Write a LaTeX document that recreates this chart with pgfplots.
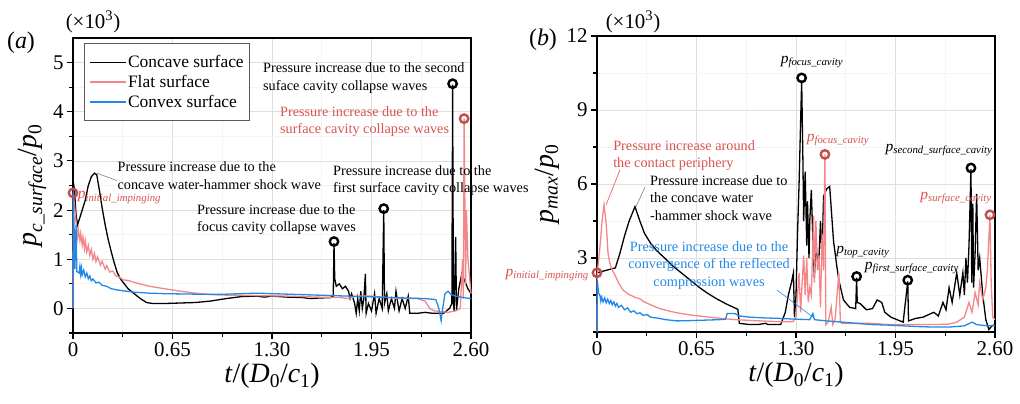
\documentclass[border=0pt]{standalone}
\usepackage{fontspec}
\setmainfont{Liberation Serif}
\usepackage{pgfplots}
\pgfplotsset{compat=1.18}

\definecolor{flatc}{HTML}{F4868A}
\definecolor{convexc}{HTML}{2288E8}
\definecolor{redtxt}{HTML}{D9534F}
\definecolor{redmk}{HTML}{C0504D}

\newcommand{\ann}{\fontsize{14.3}{17.5}\selectfont}
\newcommand{\plab}[1]{\fontsize{15.5}{17}\selectfont\textit{p}\textsubscript{\textit{#1}}}
\tikzset{ann/.style={font=\ann, inner sep=0}}

\pgfplotsset{
  panel/.style={
    scale only axis, width=398bp,
    xmin=0, xmax=2.6,
    xtick={0,0.65,1.3,1.95,2.6}, xticklabels={0,0.65,1.30,1.95,2.60},
    minor xtick={0.325,0.975,1.625,2.275},
    xtick pos=bottom, ytick pos=left, tick align=outside,
    major tick length=6bp, minor tick length=4bp,
    every tick/.style={black, line width=1.1bp},
    axis line style={line width=1.4bp},
    grid=both, major grid style={gray!25, line width=0.7bp},
    minor grid style={gray!9, line width=0.7bp},
    tick label style={font=\fontsize{21}{21}\selectfont},
    /pgf/number format/assume math mode=true,
    label style={font=\fontsize{28}{28}\selectfont},
    xlabel={\textit{t}/(\textit{D}\textsubscript{0}/\textit{c}\textsubscript{1})},
    clip=false,
  },
  blk/.style={black, line width=1.3bp},
  flt/.style={flatc, line width=1.3bp},
  cvx/.style={convexc, line width=1.3bp},
  bmk/.style={only marks, mark=o, mark size=4.2bp, black, line width=2.4bp, mark options={fill=white}, forget plot},
  rmk/.style={only marks, mark=o, mark size=4.2bp, redmk, line width=2.4bp, mark options={fill=white}, forget plot},
}

\begin{document}
\begin{tikzpicture}
\useasboundingbox (0,0) rectangle (1020bp,404bp);

% ---------------- panel (a)
\begin{axis}[panel, at={(73bp,71bp)}, anchor=south west, height=295bp,
  ymin=-0.5, ymax=5.5, ytick={0,1,2,3,4,5}, minor ytick={-0.5,0.5,1.5,2.5,3.5,4.5},
  ylabel={\textit{p}\textsubscript{\textit{c\_surface}}/\textit{p}\textsubscript{0}},
  legend style={at={(0.028,0.983)}, anchor=north west, draw=gray!70!black, line width=0.8bp,
    font=\fontsize{17.5}{19}\selectfont, inner xsep=5bp, inner ysep=11bp, row sep=4bp,
    nodes={inner xsep=1bp, inner ysep=1bp}},
  legend cell align=left,
  legend image code/.code={\draw[#1, line width=1.5bp] (0bp,0bp) -- (36bp,0bp);},
]
\addplot[blk] coordinates {(0,0) (0.003,2.55) (0.01,2.4) (0.02,1.9) (0.03,1.7) (0.045,1.85) (0.06,2.0) (0.08,2.2) (0.1,2.5) (0.12,2.68) (0.14,2.75) (0.155,2.72) (0.17,2.45) (0.19,2.05) (0.21,1.7) (0.23,1.4) (0.25,1.15) (0.27,0.92) (0.29,0.72) (0.31,0.6) (0.33,0.52) (0.36,0.4) (0.4,0.3) (0.44,0.2) (0.48,0.12) (0.52,0.1) (0.6,0.1) (0.7,0.11) (0.8,0.12) (0.9,0.15) (1.0,0.2) (1.1,0.24) (1.2,0.25) (1.25,0.23) (1.3,0.25) (1.35,0.24) (1.4,0.23) (1.5,0.22) (1.55,0.2) (1.6,0.21) (1.68,0.22) (1.70,0.25) (1.705,1.33) (1.71,0.6) (1.72,0.45) (1.74,0.5) (1.76,0.4) (1.78,0.45) (1.8,0.35) (1.81,0.2) (1.82,0.3) (1.84,0.1) (1.85,-0.1) (1.86,0.2) (1.87,-0.05) (1.88,0.35) (1.89,0.0) (1.9,0.2) (1.91,0.7) (1.915,-0.1) (1.93,0.1) (1.95,-0.05) (1.97,0.3) (1.98,-0.1) (2.0,0.2) (2.02,0.0) (2.03,2.0) (2.035,0.1) (2.05,0.3) (2.06,-0.05) (2.08,0.2) (2.1,0.0) (2.11,0.35) (2.13,-0.05) (2.15,0.2) (2.17,0.0) (2.19,0.25) (2.2,-0.1) (2.25,-0.1) (2.3,-0.08) (2.35,-0.1) (2.42,-0.1) (2.44,-0.05) (2.46,0.0) (2.475,0.1) (2.48,4.55) (2.485,0.1) (2.49,-0.05) (2.5,1.45) (2.505,-0.05) (2.52,0.4) (2.54,0.7) (2.56,0.55) (2.58,0.4) (2.6,0.3)};
\addlegendentry{Concave surface}
\addplot[flt] coordinates {(0,0) (0.002,2.35) (0.01,2.1) (0.02,1.75) (0.03,1.45) (0.035,1.6) (0.045,1.38) (0.05,1.52) (0.06,1.3) (0.065,1.45) (0.075,1.22) (0.08,1.38) (0.09,1.15) (0.1,1.28) (0.11,1.08) (0.12,1.2) (0.13,1.0) (0.14,1.12) (0.15,0.95) (0.16,1.05) (0.18,0.88) (0.19,0.96) (0.21,0.8) (0.22,0.87) (0.24,0.74) (0.26,0.76) (0.28,0.66) (0.3,0.64) (0.33,0.58) (0.36,0.57) (0.4,0.53) (0.5,0.45) (0.6,0.4) (0.7,0.35) (0.8,0.31) (0.9,0.28) (1.0,0.27) (1.2,0.26) (1.4,0.25) (1.6,0.23) (1.75,0.22) (1.8,0.2) (1.85,0.25) (1.95,0.25) (2.05,0.22) (2.15,0.2) (2.25,0.2) (2.3,0.15) (2.33,0.0) (2.36,-0.05) (2.45,-0.08) (2.5,-0.05) (2.53,0.0) (2.545,1.0) (2.55,0.2) (2.555,3.86) (2.565,0.5) (2.57,2.0) (2.58,1.0) (2.6,0.3)};
\addlegendentry{Flat surface}
\addplot[cvx] coordinates {(0,0) (0.002,2.4) (0.008,1.5) (0.012,0.8) (0.02,1.7) (0.025,0.75) (0.04,0.72) (0.045,0.85) (0.05,0.7) (0.055,0.82) (0.06,0.68) (0.07,0.78) (0.08,0.64) (0.09,0.72) (0.1,0.6) (0.11,0.66) (0.12,0.56) (0.13,0.6) (0.15,0.52) (0.17,0.53) (0.19,0.47) (0.22,0.45) (0.25,0.4) (0.3,0.37) (0.4,0.33) (0.5,0.31) (0.6,0.3) (0.8,0.29) (1.0,0.29) (1.1,0.3) (1.2,0.31) (1.3,0.3) (1.4,0.29) (1.5,0.28) (1.6,0.27) (1.7,0.26) (1.8,0.25) (1.9,0.24) (2.0,0.23) (2.1,0.22) (2.2,0.21) (2.3,0.2) (2.37,0.18) (2.39,0.0) (2.405,-0.25) (2.415,0.0) (2.43,0.3) (2.45,0.35) (2.47,0.28) (2.5,0.25) (2.55,0.22) (2.6,0.2)};
\addlegendentry{Convex surface}
\addplot[bmk] coordinates {(1.705,1.36) (2.03,2.03) (2.48,4.57)};
\addplot[rmk] coordinates {(0,2.35) (2.555,3.86)};

\draw[gray, line width=0.6bp] (axis cs:0.157,2.75) -- (axis cs:0.287,2.6);
\node[ann, anchor=north west, align=left] at (axis cs:0.29,2.98) {Pressure increase due to the\\concave water-hammer shock wave};
\node[anchor=west, inner sep=0, redtxt] at (axis cs:0.03,2.26) {\plab{initial\_impinging}};
\node[ann, anchor=north west, align=left] at (axis cs:0.81,2.125) {Pressure increase due to the\\focus cavity collapse waves};
\node[ann, anchor=north west, align=left] at (axis cs:1.698,2.91) {Pressure increase due to the\\first surface cavity collapse waves};
\node[ann, anchor=north west, align=left] at (axis cs:1.241,5.0) {Pressure increase due to the second\\suface cavity collapse waves};
\node[ann, anchor=north west, align=left, redtxt] at (axis cs:1.352,4.11) {Pressure increase due to the\\surface cavity collapse waves};
\end{axis}

% ---------------- panel (b)
\begin{axis}[panel, at={(597bp,72bp)}, anchor=south west, height=296bp,
  ymin=0, ymax=12, ytick={3,6,9,12}, minor ytick={0,1.5,4.5,7.5,10.5},
  ylabel={\textit{p}\textsubscript{\textit{max}}/\textit{p}\textsubscript{0}},
]
\addplot[blk] coordinates {(0,0) (0.002,2.4) (0.03,2.45) (0.06,2.5) (0.09,2.55) (0.12,2.6) (0.15,3.2) (0.18,3.9) (0.21,4.5) (0.248,5.08) (0.28,4.5) (0.31,4.0) (0.35,3.6) (0.39,3.3) (0.45,2.95) (0.5,2.65) (0.56,2.35) (0.61,2.1) (0.67,1.8) (0.72,1.58) (0.78,1.35) (0.85,1.12) (0.92,0.92) (0.93,0.35) (1.0,0.3) (1.05,0.3) (1.1,0.35) (1.12,0.3) (1.2,0.3) (1.23,0.8) (1.25,1.5) (1.27,2.0) (1.283,2.4) (1.29,0.6) (1.30,1.5) (1.31,4.0) (1.32,6.0) (1.33,8.5) (1.337,10.2) (1.345,7.0) (1.35,4.5) (1.36,6.5) (1.37,3.5) (1.375,5.3) (1.385,3.0) (1.39,4.5) (1.40,5.75) (1.41,3.8) (1.42,2.2) (1.43,3.6) (1.44,2.9) (1.45,3.0) (1.46,4.5) (1.47,3.0) (1.48,5.5) (1.5,5.8) (1.52,5.9) (1.545,3.7) (1.567,2.65) (1.58,2.1) (1.61,1.3) (1.65,1.0) (1.69,0.95) (1.696,2.2) (1.70,1.2) (1.72,1.15) (1.76,0.9) (1.8,0.95) (1.83,1.3) (1.86,1.2) (1.88,0.8) (1.92,0.6) (1.96,0.5) (2.0,0.4) (2.03,2.05) (2.035,0.45) (2.08,0.55) (2.13,0.6) (2.2,0.8) (2.23,0.65) (2.26,1.2) (2.28,0.9) (2.3,1.8) (2.32,1.2) (2.35,2.4) (2.37,1.5) (2.39,2.4) (2.4,1.5) (2.41,3.0) (2.42,2.0) (2.43,3.5) (2.443,6.6) (2.448,2.0) (2.455,5.2) (2.46,1.8) (2.47,3.2) (2.48,5.6) (2.49,2.5) (2.5,3.0) (2.52,1.5) (2.54,0.5) (2.56,0.1) (2.58,0.25) (2.6,0.3)};
\addplot[flt] coordinates {(0,0) (0.002,2.4) (0.02,3.5) (0.035,4.6) (0.046,5.15) (0.06,4.4) (0.072,3.2) (0.083,2.8) (0.1,2.5) (0.118,2.3) (0.14,2.0) (0.17,1.7) (0.2,1.55) (0.25,1.4) (0.28,1.35) (0.3,1.25) (0.35,1.1) (0.41,0.95) (0.47,0.85) (0.52,0.78) (0.6,0.7) (0.7,0.62) (0.8,0.56) (0.9,0.5) (1.0,0.47) (1.1,0.44) (1.2,0.42) (1.28,0.42) (1.3,0.6) (1.32,2.4) (1.33,0.8) (1.35,3.1) (1.36,1.5) (1.37,3.0) (1.38,1.2) (1.39,1.8) (1.4,1.5) (1.415,4.7) (1.42,2.0) (1.43,4.5) (1.44,2.5) (1.45,3.1) (1.46,1.0) (1.47,4.0) (1.48,2.5) (1.489,7.2) (1.495,0.3) (1.51,0.4) (1.53,1.0) (1.54,0.3) (1.555,0.5) (1.58,2.4) (1.59,0.4) (1.6,0.35) (1.7,0.35) (1.8,0.35) (1.9,0.3) (2.0,0.3) (2.1,0.3) (2.2,0.3) (2.3,0.32) (2.35,0.4) (2.4,0.6) (2.43,1.2) (2.45,0.8) (2.47,1.6) (2.49,1.1) (2.5,2.0) (2.52,1.3) (2.54,1.8) (2.55,2.5) (2.56,3.8) (2.567,4.75) (2.575,2.0) (2.585,0.6) (2.6,0.5)};
\addplot[cvx] coordinates {(0,0) (0.002,2.1) (0.01,1.6) (0.02,1.45) (0.025,1.25) (0.03,1.42) (0.04,1.22) (0.05,1.38) (0.06,1.18) (0.07,1.33) (0.08,1.15) (0.09,1.28) (0.1,1.1) (0.11,1.22) (0.12,1.05) (0.13,1.16) (0.14,1.0) (0.16,1.08) (0.18,0.9) (0.2,0.98) (0.22,0.8) (0.24,0.86) (0.26,0.74) (0.28,0.78) (0.3,0.68) (0.33,0.7) (0.35,0.6) (0.39,0.57) (0.45,0.5) (0.52,0.45) (0.6,0.46) (0.7,0.48) (0.8,0.5) (0.84,0.52) (0.85,0.75) (0.9,0.75) (0.93,0.65) (1.0,0.6) (1.1,0.57) (1.2,0.55) (1.3,0.52) (1.39,0.5) (1.41,0.75) (1.42,0.5) (1.5,0.45) (1.6,0.4) (1.7,0.35) (1.8,0.3) (1.9,0.28) (2.0,0.25) (2.1,0.22) (2.2,0.2) (2.3,0.2) (2.4,0.25) (2.45,0.4) (2.48,0.3) (2.55,0.25) (2.6,0.25)};
\addplot[bmk] coordinates {(1.337,10.3) (1.696,2.25) (2.03,2.1) (2.443,6.65)};
\addplot[rmk] coordinates {(0,2.4) (1.489,7.2) (2.567,4.75)};

\draw[redtxt, line width=0.6bp] (axis cs:0.150,6.57) -- (axis cs:0.059,5.15);
\draw[gray, line width=0.6bp] (axis cs:0.314,5.89) -- (axis cs:0.255,5.08);
\draw[convexc, line width=0.6bp] (axis cs:1.176,1.70) -- (axis cs:1.417,0.57);
\node[ann, anchor=north west, align=left, redtxt] at (axis cs:0.105,7.78) {Pressure increase around\\the contact periphery};
\node[ann, anchor=north west, align=left] at (axis cs:0.346,6.36) {Pressure increase due to\\the concave water\\-hammer shock wave};
\node[ann, anchor=north, align=center, convexc] at (axis cs:0.732,3.67) {Pressure increase due to the\\convergence of the reflected\\compression waves};
\node[inner sep=0] at (axis cs:1.404,10.94) {\plab{focus\_cavity}};
\node[inner sep=0, redtxt] at (axis cs:1.574,7.78) {\plab{focus\_cavity}};
\node[inner sep=0] at (axis cs:2.234,7.38) {\plab{second\_surface\_cavity}};
\node[inner sep=0, redtxt] at (axis cs:2.345,5.43) {\plab{surface\_cavity}};
\node[inner sep=0] at (axis cs:1.737,3.24) {\plab{top\_cavity}};
\node[inner sep=0] at (axis cs:2.057,2.59) {\plab{first\_surface\_cavity}};
\node[inner sep=0, anchor=east, redtxt] at (axis cs:-0.052,2.31) {\plab{initial\_impinging}};
\end{axis}

\node[font=\fontsize{24}{24}\selectfont] at (21bp,361bp) {(\textit{a})};
\node[font=\fontsize{21}{21}\selectfont] at (93bp,382bp) {(×10\textsuperscript{3})};
\node[font=\fontsize{24}{24}\selectfont] at (543bp,364bp) {(\textit{b})};
\node[font=\fontsize{21}{21}\selectfont] at (633bp,382bp) {(×10\textsuperscript{3})};
\end{tikzpicture}
\end{document}
